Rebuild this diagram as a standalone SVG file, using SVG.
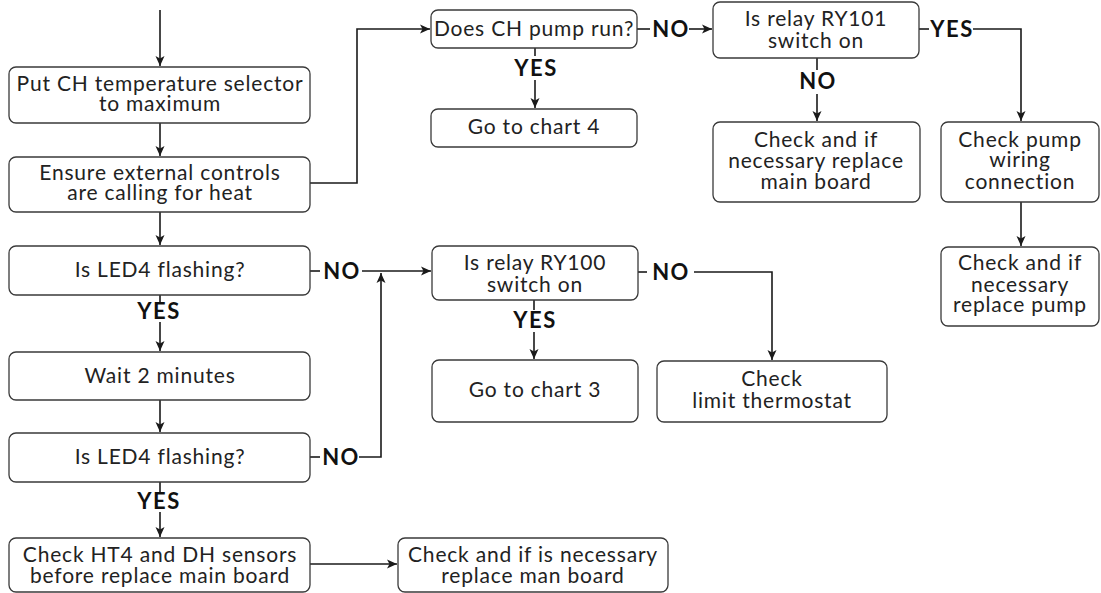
<svg xmlns="http://www.w3.org/2000/svg" width="1101" height="593" viewBox="0 0 1101 593">
<style>
.box{fill:#fff;stroke:#3a3a3a;stroke-width:1.3}
.t{font-family:Lato,"Open Sans","Liberation Sans",sans-serif;font-size:21px;letter-spacing:0.8px;fill:#222;text-anchor:middle}
.lb{font-family:Lato,"Open Sans","Liberation Sans",sans-serif;font-size:22px;letter-spacing:1.5px;font-weight:bold;fill:#111;text-anchor:middle}
.c{fill:none;stroke:#1a1a1a;stroke-width:1.6}
.a{marker-end:url(#ah)}
</style>
<defs>
<marker id="ah" markerUnits="userSpaceOnUse" markerWidth="12" markerHeight="10" refX="10" refY="5" orient="auto">
<path d="M0,0.5 L10,5 L0,9.5 L2.5,5 Z" fill="#1a1a1a"/>
</marker>
</defs>
<rect width="1101" height="593" fill="#fff"/>
<g id="connectors">
<path class="c a" d="M160,10 V66"/>
<path class="c a" d="M160,123 V156"/>
<path class="c a" d="M160,212 V245"/>
<path class="c" d="M160,295 V303"/>
<path class="c a" d="M160,322 V351"/>
<path class="c a" d="M160,400 V432"/>
<path class="c" d="M160,482 V492"/>
<path class="c a" d="M160,512 V537"/>
<path class="c a" d="M310,564 H397"/>
<path class="c" d="M310,271 H320"/>
<path class="c a" d="M362,271 H431"/>
<path class="c" d="M310,457 H320"/>
<path class="c a" d="M359,457 H381 V273"/>
<path class="c a" d="M310,183 H357 V29 H430"/>
<path class="c" d="M535,48 V56"/>
<path class="c a" d="M535,80 V108"/>
<path class="c" d="M637,29 H650"/>
<path class="c a" d="M689,29 H712"/>
<path class="c" d="M817,58 V70"/>
<path class="c a" d="M817,94 V121"/>
<path class="c" d="M919,29 H929"/>
<path class="c a" d="M973,29 H1021 V121"/>
<path class="c a" d="M1021,202 V246"/>
<path class="c" d="M534,300 V310"/>
<path class="c a" d="M534,332 V359"/>
<path class="c" d="M638,272 H647"/>
<path class="c a" d="M694,272 H772 V360"/>
<text class="lb" x="159" y="319">YES</text>
<text class="lb" x="159" y="509">YES</text>
<text class="lb" x="342" y="279">NO</text>
<text class="lb" x="341" y="465">NO</text>
<text class="lb" x="536" y="76">YES</text>
<text class="lb" x="671" y="37">NO</text>
<text class="lb" x="818" y="89">NO</text>
<text class="lb" x="952" y="37">YES</text>
<text class="lb" x="535" y="328">YES</text>
<text class="lb" x="671" y="280">NO</text>
</g>
<g id="nA"><rect class="box" x="9" y="67" width="301" height="56" rx="7"/><text class="t" x="160" y="91">Put CH temperature selector</text><text class="t" x="160" y="111">to maximum</text></g>
<g id="nB"><rect class="box" x="9" y="157" width="301" height="55" rx="7"/><text class="t" x="160" y="180">Ensure external controls</text><text class="t" x="160" y="200">are calling for heat</text></g>
<g id="nC"><rect class="box" x="9" y="246" width="301" height="49" rx="7"/><text class="t" x="160" y="277">Is LED4 flashing?</text></g>
<g id="nD"><rect class="box" x="9" y="352" width="301" height="48" rx="7"/><text class="t" x="160" y="383">Wait 2 minutes</text></g>
<g id="nE"><rect class="box" x="9" y="433" width="301" height="49" rx="7"/><text class="t" x="160" y="464">Is LED4 flashing?</text></g>
<g id="nF"><rect class="box" x="9" y="538" width="301" height="54" rx="7"/><text class="t" x="160" y="562">Check HT4 and DH sensors</text><text class="t" x="160" y="583">before replace main board</text></g>
<g id="nG"><rect class="box" x="398" y="538" width="270" height="54" rx="7"/><text class="t" x="533" y="562">Check and if is necessary</text><text class="t" x="533" y="583">replace man board</text></g>
<g id="nH"><rect class="box" x="432" y="246" width="206" height="54" rx="7"/><text class="t" x="535" y="270">Is relay RY100</text><text class="t" x="535" y="292">switch on</text></g>
<g id="nI"><rect class="box" x="432" y="360" width="206" height="62" rx="7"/><text class="t" x="535" y="397">Go to chart 3</text></g>
<g id="nJ"><rect class="box" x="657" y="361" width="230" height="61" rx="7"/><text class="t" x="772" y="386">Check</text><text class="t" x="772" y="408">limit thermostat</text></g>
<g id="nK"><rect class="box" x="431" y="10" width="206" height="38" rx="7"/><text class="t" x="534" y="36">Does CH pump run?</text></g>
<g id="nM"><rect class="box" x="431" y="109" width="206" height="38" rx="7"/><text class="t" x="534" y="134">Go to chart 4</text></g>
<g id="nL"><rect class="box" x="713" y="2" width="206" height="56" rx="7"/><text class="t" x="816" y="26">Is relay RY101</text><text class="t" x="816" y="48">switch on</text></g>
<g id="nN"><rect class="box" x="713" y="122" width="207" height="80" rx="7"/><text class="t" x="816" y="147">Check and if</text><text class="t" x="816" y="168">necessary replace</text><text class="t" x="816" y="189">main board</text></g>
<g id="nO"><rect class="box" x="941" y="122" width="158" height="80" rx="7"/><text class="t" x="1020" y="147">Check pump</text><text class="t" x="1020" y="167">wiring</text><text class="t" x="1020" y="189">connection</text></g>
<g id="nP"><rect class="box" x="941" y="247" width="158" height="79" rx="7"/><text class="t" x="1020" y="270">Check and if</text><text class="t" x="1020" y="292">necessary</text><text class="t" x="1020" y="312">replace pump</text></g>
</svg>
